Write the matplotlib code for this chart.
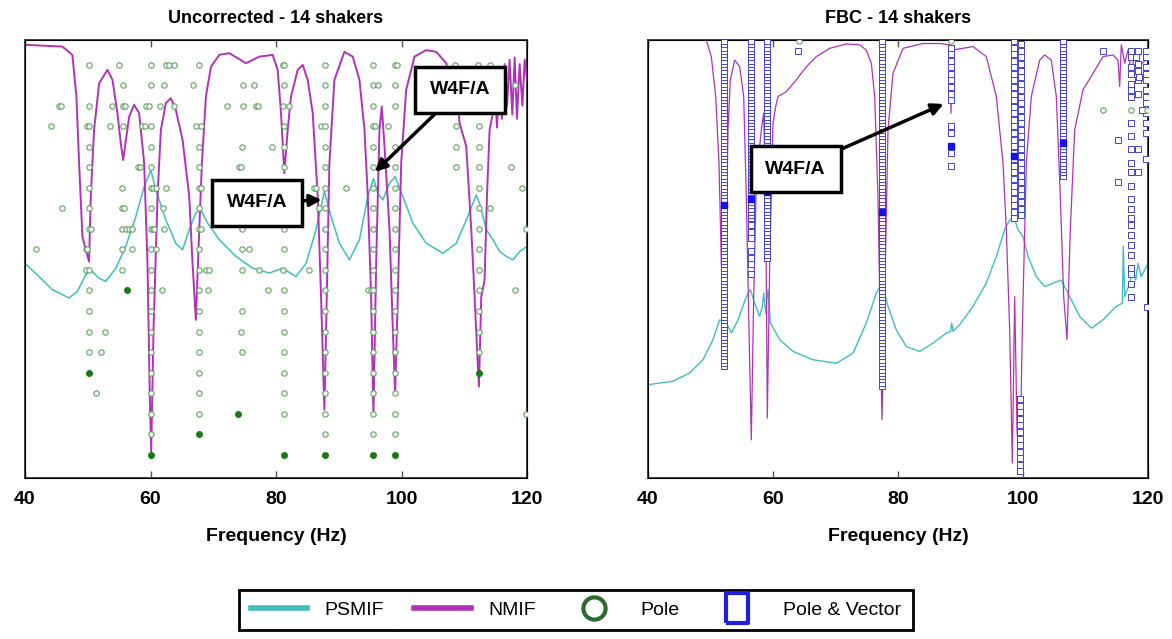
import matplotlib
matplotlib.use("Agg")
from matplotlib import pyplot as plt
from matplotlib.lines import Line2D

plt.rcParams["font.family"] = ["Liberation Sans", "DejaVu Sans"]

CYAN = "#3fbfbf"
MAGENTA = "#b032b8"
GREEN_EDGE = "#5fa35f"
GREEN_FILL = "#177a17"
BLUE_EDGE = "#4646c8"
BLUE_FILL = "#1414e6"

freq_ticks = [40, 60, 80, 100, 120]

# --- left panel: uncorrected ---
left_nmif_f = [40.0, 45.96, 47.55, 48.19, 48.62, 49.15, 49.68, 50.21, 50.48, 51.01, 51.81, 53.14,
               53.94, 54.73, 55.27, 55.64, 56.60, 57.39, 58.19, 58.99, 59.52, 59.89, 60.11, 60.48,
               61.12, 61.65, 62.45, 63.24, 64.04, 65.11, 66.17, 66.70, 67.23, 67.77, 68.19, 68.83,
               69.63, 70.96, 72.55, 75.21, 77.34, 79.47, 80.27, 80.80, 81.33, 81.86, 82.39, 83.46,
               84.26, 85.05, 85.85, 86.65, 87.18, 87.71, 87.98, 88.51, 89.31, 90.90, 92.23, 93.30,
               94.10, 94.63, 95.16, 95.53, 95.96, 96.49, 96.86, 97.29, 98.09, 98.62, 98.99, 99.41,
               99.95, 100.74, 102.07, 103.94, 105.53, 107.13, 108.19, 108.72, 109.26, 110.32, 111.12,
               111.65, 112.02, 112.34, 112.71, 113.24, 113.62, 114.04, 114.57, 114.84, 115.21, 115.64,
               116.01, 116.44, 116.81, 117.23, 117.66, 118.03, 118.40, 118.83, 119.26, 119.63, 120.0]
left_nmif_v = [0.989, 0.985, 0.966, 0.871, 0.719, 0.551, 0.521, 0.494, 0.643, 0.795, 0.901, 0.932,
               0.909, 0.833, 0.764, 0.726, 0.825, 0.852, 0.833, 0.719, 0.490, 0.186, 0.060, 0.338,
               0.643, 0.795, 0.856, 0.867, 0.840, 0.772, 0.643, 0.490, 0.361, 0.567, 0.719, 0.871,
               0.939, 0.966, 0.970, 0.947, 0.962, 0.966, 0.932, 0.833, 0.696, 0.795, 0.871, 0.932,
               0.943, 0.909, 0.833, 0.643, 0.414, 0.156, 0.338, 0.719, 0.909, 0.973, 0.962, 0.909,
               0.795, 0.643, 0.414, 0.141, 0.490, 0.795, 0.848, 0.757, 0.567, 0.338, 0.194, 0.414,
               0.719, 0.886, 0.962, 0.977, 0.973, 0.947, 0.871, 0.901, 0.810, 0.757, 0.567,
               0.414, 0.300, 0.209, 0.414, 0.452, 0.643, 0.795, 0.833, 0.920, 0.800, 0.930,
               0.820, 0.945, 0.850, 0.955, 0.830, 0.960, 0.820, 0.945, 0.850, 0.955, 0.909]

left_psmif_f = [40.0, 42.23, 44.36, 47.02, 48.35, 49.68, 50.48, 51.81, 52.87, 54.47, 56.06, 57.66,
                58.99, 60.05, 60.85, 62.45, 64.04, 65.11, 66.17, 67.23, 68.03, 69.10, 70.96, 73.62,
                76.28, 78.94, 81.06, 83.19, 84.79, 86.38, 87.71, 88.78, 90.11, 91.70, 93.30, 94.63,
                95.53, 96.22, 97.02, 98.09, 98.99, 100.21, 101.81, 103.94, 106.60, 108.72, 110.32,
                111.91, 112.45, 112.98, 113.51, 114.57, 115.64, 116.70, 117.77, 118.83, 120.0]
left_psmif_v = [0.490, 0.460, 0.430, 0.411, 0.426, 0.464, 0.475, 0.456, 0.449, 0.479, 0.529, 0.597,
                0.665, 0.703, 0.658, 0.589, 0.536, 0.521, 0.567, 0.605, 0.612, 0.582, 0.544, 0.506,
                0.479, 0.468, 0.479, 0.460, 0.490, 0.567, 0.654, 0.597, 0.536, 0.498, 0.544, 0.643,
                0.684, 0.650, 0.635, 0.673, 0.688, 0.643, 0.582, 0.536, 0.513, 0.536, 0.589,
                0.646, 0.627, 0.597, 0.567, 0.544, 0.517, 0.506, 0.498, 0.517, 0.529]

# pole frequencies for each model order, order 1 (bottom) to 20 (top)
left_poles_by_order = [
    [],
    [60.05, 87.82, 95.53, 98.99],
    [60.05, 67.77, 81.22, 87.82, 95.53, 98.99, 119.89],
    [51.28, 60.05, 67.77, 81.22, 87.82, 95.53, 98.99],
    [60.05, 67.77, 81.22, 87.82, 95.53, 98.99],
    [50.21, 52.07, 60.05, 67.77, 74.57, 81.22, 87.82, 95.53, 98.99, 112.34],
    [50.21, 52.77, 60.05, 67.77, 74.41, 81.22, 87.82, 95.53, 98.99, 112.34],
    [50.21, 60.05, 67.77, 74.57, 81.22, 87.82, 95.53, 98.99, 112.34],
    [50.21, 60.05, 61.91, 67.77, 69.10, 78.67, 81.22, 87.82, 94.63, 95.16, 95.53, 98.99, 112.34, 118.03],
    [49.68, 50.21, 55.53, 60.05, 67.77, 68.83, 69.36, 74.57, 77.34, 81.06, 85.32, 87.82, 95.53, 98.99, 112.34],
    [41.70, 49.68, 49.95, 55.53, 57.13, 60.05, 60.85, 67.77, 74.57, 75.74, 81.22, 87.82, 95.53, 98.99, 112.34],
    [50.21, 50.48, 55.53, 56.06, 56.60, 57.13, 60.05, 60.32, 60.59, 62.18, 67.77, 68.03, 74.57, 81.22,
     87.82, 95.53, 98.99, 112.34, 119.89],
    [45.85, 50.21, 55.43, 55.80, 60.05, 62.02, 67.77, 81.06, 86.91, 87.82, 95.53, 98.99, 112.34, 114.04],
    [50.21, 55.43, 60.05, 60.32, 60.85, 62.45, 67.77, 68.03, 86.12, 86.38, 87.82, 91.17, 95.53, 98.99,
     112.34, 119.26],
    [50.21, 57.93, 58.30, 60.05, 67.77, 74.15, 74.41, 81.22, 87.82, 95.53, 98.99, 108.72, 112.34, 117.39],
    [50.21, 60.05, 67.77, 74.57, 79.31, 81.22, 87.82, 95.53, 98.99, 108.72, 112.34],
    [44.10, 49.95, 50.21, 53.56, 55.69, 58.72, 59.15, 60.05, 67.23, 68.03, 81.22, 87.18, 87.82, 95.53,
     95.80, 97.82, 108.72, 112.34],
    [45.43, 45.69, 50.21, 53.83, 55.69, 55.90, 59.26, 59.79, 61.54, 63.67, 72.18, 74.79, 76.81, 77.07,
     81.06, 82.02, 87.82, 95.53, 98.99],
    [55.69, 60.05, 62.18, 66.81, 74.79, 76.44, 81.22, 87.82, 95.53, 96.22, 98.99, 118.1],
    [50.21, 55.0, 60.05, 62.45, 62.98, 63.78, 67.77, 81.06, 81.33, 87.82, 95.53, 98.99, 99.31, 108.5,
     112.2, 114.1],
]
left_filled_f = [60.05, 81.22, 87.82, 95.53, 98.99, 67.77, 73.88, 50.21, 112.34, 56.33]
left_filled_order = [1, 1, 1, 1, 1, 2, 3, 5, 5, 9]

# --- right panel: FBC ---
right_nmif_f = [40.0, 48.8, 49.33, 50.13, 50.83, 51.36, 51.73, 52.11, 52.43, 52.80, 53.17, 53.87,
                54.67, 55.31, 55.73, 56.16, 56.53, 56.91, 57.33, 57.87, 58.13, 58.51, 58.83, 59.09,
                59.47, 60.0, 60.43, 60.80, 62.13, 63.73, 65.33, 66.93, 69.07, 71.73, 73.87, 74.93,
                75.73, 76.27, 76.80, 77.17, 77.44, 77.87, 78.40, 79.20, 80.80, 84.0, 86.67, 88.27,
                88.48, 88.69, 92.0, 94.13, 95.73, 96.80, 97.33, 97.87, 98.29, 98.67, 99.04, 99.47,
                99.89, 100.53, 101.33, 102.67, 103.47, 104.53, 105.33, 105.97, 106.51, 107.04, 107.57,
                108.27, 109.60, 111.20, 112.80, 114.40, 115.20, 115.47, 115.73, 116.27, 116.8, 117.33,
                117.87, 118.67, 120.0]
right_nmif_v = [1.10, 1.05, 1.0, 0.962, 0.871, 0.719, 0.490, 0.300, 0.490, 0.795, 0.909, 0.954,
                0.939, 0.871, 0.643, 0.338, 0.087, 0.414, 0.681, 0.757, 0.795, 0.833, 0.643, 0.137,
                0.490, 0.810, 0.848, 0.871, 0.882, 0.909, 0.939, 0.962, 0.981, 0.991, 0.989, 0.977,
                0.947, 0.871, 0.643, 0.338, 0.133, 0.414, 0.795, 0.924, 0.981, 0.992, 0.992, 0.989,
                0.833, 0.977, 0.985, 0.962, 0.871, 0.719, 0.567, 0.338, 0.034, 0.414, 0.110, 0.011,
                0.338, 0.719, 0.871, 0.954, 0.966, 0.954, 0.871, 0.643, 0.414, 0.316, 0.567,
                0.795, 0.886, 0.924, 0.962, 0.966, 0.954, 0.894, 0.989, 0.947, 0.977, 0.924,
                0.970, 0.939, 0.962]

right_psmif_f = [40.0, 44.0, 46.67, 48.80, 50.40, 51.47, 52.53, 53.33, 54.40, 55.73, 56.37, 57.07,
                 57.87, 58.29, 58.51, 58.83, 59.20, 59.57, 61.07, 63.20, 66.40, 70.13, 72.80, 74.93,
                 76.53, 77.44, 78.40, 79.73, 81.33, 83.47, 85.60, 87.73, 88.43, 88.59, 88.80, 89.87,
                 92.0, 94.13, 95.73, 97.07, 97.87, 98.51, 99.20, 100.0, 100.80, 102.13, 103.47, 104.80,
                 106.13, 107.47, 109.07, 110.93, 112.80, 114.93, 115.89, 116.05, 116.27, 117.07, 117.60,
                 118.03, 118.40, 118.93, 120.0]
right_psmif_v = [0.213, 0.221, 0.240, 0.270, 0.316, 0.361, 0.354, 0.331, 0.361, 0.414, 0.430, 0.399,
                 0.369, 0.392, 0.422, 0.376, 0.430, 0.354, 0.316, 0.289, 0.270, 0.262, 0.285, 0.354,
                 0.422, 0.445, 0.392, 0.338, 0.300, 0.289, 0.308, 0.331, 0.335, 0.354, 0.335, 0.350,
                 0.392, 0.445, 0.506, 0.567, 0.589, 0.597, 0.567, 0.551, 0.506, 0.460, 0.437, 0.445,
                 0.452, 0.414, 0.369, 0.342, 0.361, 0.392, 0.399, 0.529, 0.414, 0.445, 0.475,
                 0.452, 0.490, 0.460, 0.490]

# stable columns: (frequency, lowest order, highest order, order step)
right_stable_runs = [
    (52.1, 34, 133, 1),
    (56.4, 79, 133, 1),
    (59.1, 67, 133, 1),
    (77.4, 28, 133, 1),
    (88.5, 115, 131, 2),
    (98.5, 79, 133, 2),
    (99.6, 80, 132, 2),
    (99.5, 2, 25, 2),
    (106.4, 92, 133, 1),
]
right_scatter_f = [56.4, 56.4, 56.4, 56.4, 56.4, 56.4, 56.4, 88.5, 88.5, 88.5, 88.5,
                   64.0, 112.8, 115.2, 115.2,
                   117.3, 117.3, 117.3, 117.3, 117.3, 117.3, 117.3, 117.3, 117.3, 117.3, 117.3, 117.3,
                   117.3, 117.3, 117.3, 117.3, 117.3, 117.3, 117.3, 117.3, 117.3, 117.3, 117.3, 117.3,
                   118.4, 118.4, 118.4, 118.4, 118.4, 118.4, 118.4,
                   119.7, 119.7, 119.7, 119.7, 119.7, 119.7, 119.7, 119.7, 119.7, 119.7, 119.7, 119.7,
                   119.9, 118.0, 118.6, 119.0]
right_scatter_order = [77, 75, 73, 69, 67, 65, 62, 107, 105, 99, 95,
                       130, 130, 103, 90,
                       130, 128, 125, 123, 120, 118, 116, 108, 104, 100, 96, 93,
                       89, 85, 82, 79, 77, 74, 71, 68, 64, 62, 59, 55,
                       130, 126, 124, 121, 117, 100, 93,
                       130, 128, 125, 123, 121, 118, 116, 114, 111, 108, 105, 97,
                       52, 128, 122, 112]
right_filled_f = [52.1, 56.4, 59.1, 77.4, 88.5, 98.5, 106.4]
right_filled_order = [83, 85, 87, 81, 101, 98, 102]
right_circle_f = [64.2, 88.5, 112.8, 117.3, 119.8]
right_circle_order = [133, 133, 112, 112, 112]


def style_axes(ax, title):
    ax.set_xlim(40, 120)
    ax.set_ylim(0, 1)
    ax.set_xticks(freq_ticks)
    ax.set_yticks([])
    ax.tick_params(axis="x", direction="in", top=True, length=5, width=1, pad=9,
                   labelsize=14, colors="#555555", labelcolor="black")
    for lab in ax.get_xticklabels():
        lab.set_fontweight("bold")
    for sp in ax.spines.values():
        sp.set_color("#444444")
        sp.set_linewidth(1.4)
    ax.set_title(title, fontsize=13, fontweight="bold", pad=12)
    ax.set_xlabel("Frequency (Hz)", fontsize=14, fontweight="bold", labelpad=15)


def label_box(top_ax, base_ax, text, xy, xytext):
    # drawn on the top (pole) axes so the poles do not cover it
    top_ax.annotate(text, xy=xy, xytext=xytext, xycoords=base_ax.transData,
                    textcoords=base_ax.transData, fontsize=14, fontweight="bold",
                    ha="center", va="center", zorder=10,
                    bbox=dict(boxstyle="square,pad=0.75", fc="white", ec="black", lw=2.5),
                    arrowprops=dict(arrowstyle="-|>,head_length=0.5,head_width=0.25",
                                    color="black", lw=2.5, shrinkA=0, shrinkB=0))


fig = plt.figure(figsize=(11.72, 6.39), dpi=100)

# left
axl = fig.add_axes([25 / 1172, 161 / 639, 502 / 1172, 438 / 639])
axl.plot(left_psmif_f, left_psmif_v, color=CYAN, lw=1.1, zorder=2)
axl.plot(left_nmif_f, left_nmif_v, color=MAGENTA, lw=1.4, zorder=3)
style_axes(axl, "Uncorrected - 14 shakers")
axlp = axl.twinx()
axlp.set_ylim(-0.135, 21.2)
axlp.set_yticks([])
for order, freqs in enumerate(left_poles_by_order, start=1):
    axlp.scatter(freqs, [order] * len(freqs), s=15, facecolors="white",
                 edgecolors=GREEN_EDGE, linewidths=0.8, zorder=4)
axlp.scatter(left_filled_f, left_filled_order, s=16, color=GREEN_FILL, zorder=5)
label_box(axlp, axl, "W4F/A", xy=(87.28, 0.635), xytext=(76.97, 0.628))
label_box(axlp, axl, "W4F/A", xy=(95.78, 0.699), xytext=(109.3, 0.886))

# right
axr = fig.add_axes([648 / 1172, 161 / 639, 500 / 1172, 438 / 639])
axr.plot(right_psmif_f, right_psmif_v, color=CYAN, lw=1.0, zorder=2)
axr.plot(right_nmif_f, right_nmif_v, color=MAGENTA, lw=0.9, zorder=3)
style_axes(axr, "FBC - 14 shakers")
axrp = axr.twinx()
axrp.set_ylim(0, 133.3)
axrp.set_yticks([])
for freq, lo, hi, step in right_stable_runs:
    orders = list(range(lo, hi + 1, step))
    axrp.scatter([freq] * len(orders), orders, s=21, marker="s", facecolors="white",
                 edgecolors=BLUE_EDGE, linewidths=0.7, zorder=4)
axrp.scatter(right_scatter_f, right_scatter_order, s=21, marker="s", facecolors="white",
             edgecolors=BLUE_EDGE, linewidths=0.7, zorder=4)
axrp.scatter(right_filled_f, right_filled_order, s=22, marker="s", color=BLUE_FILL, zorder=5)
axrp.scatter(right_circle_f, right_circle_order, s=15, facecolors="white",
             edgecolors=GREEN_EDGE, linewidths=0.8, zorder=4)
label_box(axrp, axr, "W4F/A", xy=(87.3, 0.854), xytext=(63.63, 0.705))

# legend
rect = [(-0.75, -1), (0.75, -1), (0.75, 1), (-0.75, 1), (-0.75, -1)]
handles = [
    Line2D([], [], color=CYAN, lw=4),
    Line2D([], [], color=MAGENTA, lw=4),
    Line2D([], [], ls="none", marker="o", ms=16, mfc="none", mec="#2d6a2d", mew=3),
    Line2D([], [], ls="none", marker=rect, ms=22, mfc="none", mec="#1f1fe0", mew=3),
]
leg = fig.legend(handles, ["PSMIF", "NMIF", "Pole", "Pole & Vector"], loc="center",
                 bbox_to_anchor=(576 / 1172, 1 - 610 / 639), ncol=4, fontsize=14,
                 frameon=True, fancybox=False, edgecolor="black", framealpha=1,
                 handlelength=2.9, columnspacing=1.55, handletextpad=0.9,
                 borderpad=0.6)
leg.get_frame().set_linewidth(2)

fig.savefig("out.png", dpi=100)
